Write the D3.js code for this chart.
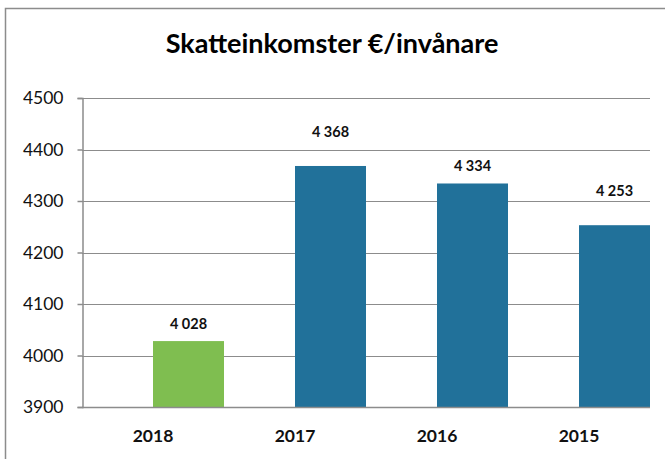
<!DOCTYPE html>
<html>
<head>
<meta charset="utf-8">
<script src="https://cdn.jsdelivr.net/npm/d3@7"></script>
<style>
  html, body { margin: 0; padding: 0; background: #fff; }
  svg { display: block; }
</style>
</head>
<body>
<div id="chart"></div>
<script>
const years = ['2018', '2017', '2016', '2015'];
const values = [4028, 4368, 4334, 4253];
const barColors = ['#7fbe50', '#21719a', '#21719a', '#21719a'];
const yTicks = [3900, 4000, 4100, 4200, 4300, 4400, 4500];
const title = 'Skatteinkomster €/invånare';

const width = 665, height = 459;
const margin = { top: 98, right: 15, bottom: 52, left: 82 };
const fontFamily = 'Lato, "Open Sans", sans-serif';

const svg = d3.select('#chart').append('svg')
  .attr('width', width)
  .attr('height', height);

// chart frame (top and left edges visible in the crop)
svg.append('path')
  .attr('d', `M5.5,${height} V8.5 H${width}`)
  .attr('fill', 'none')
  .attr('stroke', '#8c8c8c')
  .attr('stroke-width', 1.5);

const x = d3.scaleBand()
  .domain(years)
  .range([margin.left, width - margin.right]);

const y = d3.scaleLinear()
  .domain([3900, 4500])
  .range([height - margin.bottom, margin.top]);

// gridlines
svg.append('g')
  .selectAll('line')
  .data(yTicks)
  .join('line')
  .attr('x1', margin.left)
  .attr('x2', width - margin.right)
  .attr('y1', d => Math.round(y(d)) + 0.5)
  .attr('y2', d => Math.round(y(d)) + 0.5)
  .attr('stroke', '#8c8c8c')
  .attr('stroke-width', 1.2);

// bars sit in the right half of each category band
svg.append('g')
  .selectAll('rect')
  .data(years)
  .join('rect')
  .attr('x', d => x(d) + x.bandwidth() / 2)
  .attr('width', x.bandwidth() / 2)
  .attr('y', (d, i) => y(values[i]))
  .attr('height', (d, i) => y(3900) - y(values[i]))
  .attr('fill', (d, i) => barColors[i]);

// y axis
const yAxis = svg.append('g')
  .attr('transform', `translate(${margin.left + 0.5},0)`)
  .call(d3.axisLeft(y).tickValues(yTicks).tickSize(5).tickPadding(14).tickFormat(d3.format('d')));
yAxis.selectAll('text')
  .attr('font-family', fontFamily)
  .attr('font-size', 17.5)
  .attr('fill', '#111');

// x axis with ticks on band boundaries
const xAxis = svg.append('g')
  .attr('transform', `translate(0,${Math.round(y(3900)) + 0.5})`);
xAxis.append('line')
  .attr('x1', margin.left)
  .attr('x2', width - margin.right)
  .attr('stroke', '#8c8c8c')
  .attr('stroke-width', 1.5);
xAxis.selectAll('line.tick')
  .data(years)
  .join('line')
  .attr('class', 'tick')
  .attr('x1', d => Math.round(x(d) + x.bandwidth()) + 0.5)
  .attr('x2', d => Math.round(x(d) + x.bandwidth()) + 0.5)
  .attr('y1', 0)
  .attr('y2', 5);
xAxis.selectAll('text')
  .data(years)
  .join('text')
  .attr('x', d => x(d) + x.bandwidth() / 2)
  .attr('y', 34)
  .attr('text-anchor', 'middle')
  .attr('font-family', fontFamily)
  .attr('font-size', 17.5)
  .attr('font-weight', 700)
  .attr('fill', '#111')
  .text(d => d);

svg.selectAll('.domain, .tick line').attr('stroke', '#8c8c8c').attr('stroke-width', 1.5);

// data labels; pushed up if they would sit on a gridline
const fmt = v => d3.format(',')(v).replace(',', ' ');
svg.append('g')
  .selectAll('text')
  .data(years)
  .join('text')
  .attr('x', d => x(d) + x.bandwidth() * 0.75)
  .attr('y', (d, i) => {
    let cy = y(values[i]) - 17;
    if (yTicks.some(t => Math.abs(y(t) - cy) < 8)) cy -= 17;
    return cy + 5;
  })
  .attr('text-anchor', 'middle')
  .attr('font-family', fontFamily)
  .attr('font-size', 14.5)
  .attr('font-weight', 700)
  .attr('fill', '#111')
  .text((d, i) => fmt(values[i]));

svg.append('text')
  .attr('x', 332)
  .attr('y', 53)
  .attr('text-anchor', 'middle')
  .attr('font-family', fontFamily)
  .attr('font-size', 27)
  .attr('font-weight', 700)
  .attr('fill', '#000')
  .text(title);
</script>
</body>
</html>
